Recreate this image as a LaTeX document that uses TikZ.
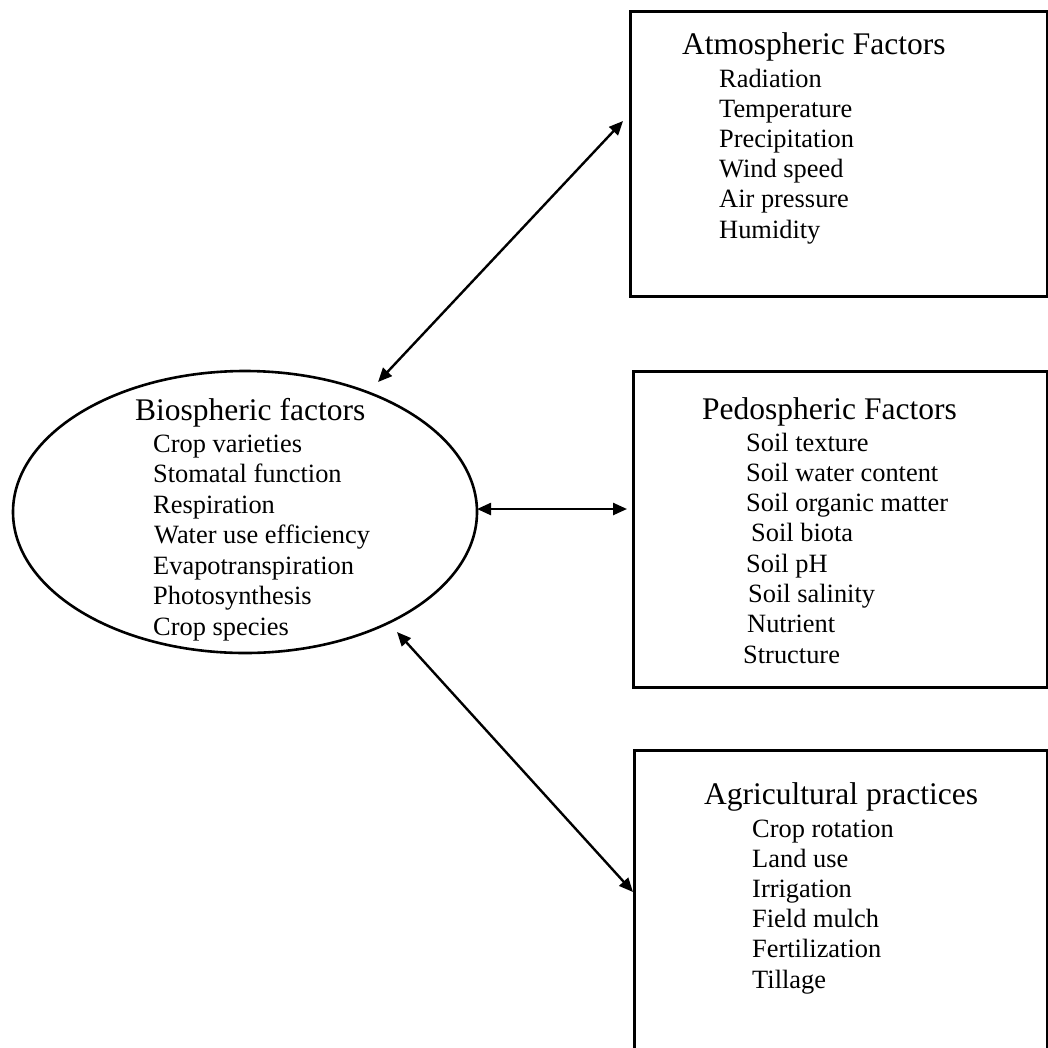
\documentclass[tikz,border=0pt]{standalone}
\usepackage{fontspec}
\setmainfont{Liberation Serif}
\usetikzlibrary{shapes.geometric,arrows.meta}
\begin{document}
\begin{tikzpicture}[x=1pt,y=-1pt,
  frame/.style={draw, line width=2.6pt, rectangle, anchor=north west, inner sep=0pt},
  oval/.style={draw, line width=2.6pt, ellipse, inner sep=0pt},
  ttl/.style={anchor=base west, inner sep=0pt, font=\fontsize{31.5}{36}\selectfont},
  itm/.style={anchor=base west, inner sep=0pt, font=\fontsize{26.4}{30}\selectfont},
  link/.style={line width=2.4pt, {Triangle[length=14pt,width=12pt]}-{Triangle[length=14pt,width=12pt]}}
]
\useasboundingbox (0,0) rectangle (1048,1047);
\fill[white] (0,0) rectangle (1048,1047);
\clip (0,0) rectangle (1048,1047);

% shapes
\node[oval, minimum width=464pt, minimum height=282pt] (bio) at (245,512) {};
\node[frame, minimum width=417pt, minimum height=285pt] (atm) at (629,10) {};
\node[frame, minimum width=414pt, minimum height=316pt] (ped) at (632,370) {};
\node[frame, minimum width=413pt, minimum height=311pt] (agr) at (633,749) {};

% Biospheric text
\node[ttl] (bt) at (135,420) {Biospheric factors};
\node[itm] (b1) at (153,452) {Crop varieties};
\node[itm] (b2) at (153,482.5) {Stomatal function};
\node[itm] (b3) at (153,513) {Respiration};
\node[itm] (b4) at (154,543.5) {Water use efficiency};
\node[itm] (b5) at (153,574) {Evapotranspiration};
\node[itm] (b6) at (153,604.5) {Photosynthesis};
\node[itm] (b7) at (153,635) {Crop species};

% Atmospheric text
\node[ttl] (at) at (682,54) {Atmospheric Factors};
\node[itm] (a1) at (719,87) {Radiation};
\node[itm] (a2) at (719,117.2) {Temperature};
\node[itm] (a3) at (719,147.4) {Precipitation};
\node[itm] (a4) at (719,177.6) {Wind speed};
\node[itm] (a5) at (719,207.8) {Air pressure};
\node[itm] (a6) at (719,238) {Humidity};

% Pedospheric text
\node[ttl] (pt) at (702,419) {Pedospheric Factors};
\node[itm] (p1) at (746,451) {Soil texture};
\node[itm] (p2) at (746,481.3) {Soil water content};
\node[itm] (p3) at (746,511.6) {Soil organic matter};
\node[itm] (p4) at (751,541.9) {Soil biota};
\node[itm] (p5) at (746,572.2) {Soil pH};
\node[itm] (p6) at (748,602.5) {Soil salinity};
\node[itm] (p7) at (747,632.8) {Nutrient};
\node[itm] (p8) at (743,663) {Structure};

% Agricultural text
\node[ttl] (gt) at (704,804) {Agricultural practices};
\node[itm] (g1) at (752,837) {Crop rotation};
\node[itm] (g2) at (752,867.2) {Land use};
\node[itm] (g3) at (752,897.4) {Irrigation};
\node[itm] (g4) at (752,927.6) {Field mulch};
\node[itm] (g5) at (752,957.8) {Fertilization};
\node[itm] (g6) at (752,988) {Tillage};

% connector ends
\coordinate (c1s) at (378,382);
\coordinate (c1e) at (623,121);
\coordinate (c2s) at (477,509);
\coordinate (c2e) at (627,509);
\coordinate (c3s) at (397,632);
\coordinate (c3e) at (633,892);

\draw[link] (c1s) -- (c1e);
\draw[link] (c2s) -- (c2e);
\draw[link] (c3s) -- (c3e);
\end{tikzpicture}
\end{document}
